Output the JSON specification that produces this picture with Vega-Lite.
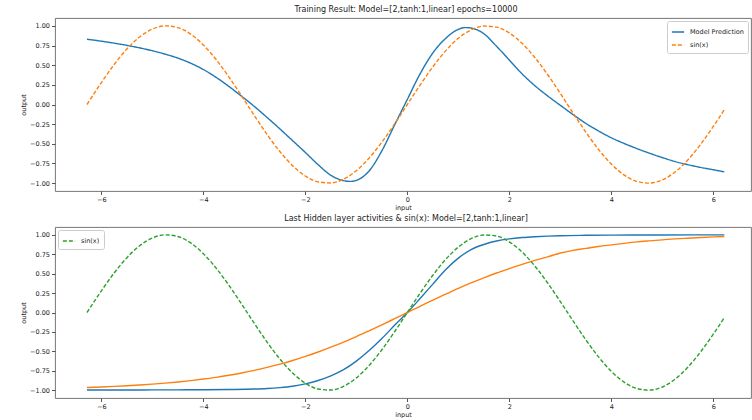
{
  "$schema": "https://vega.github.io/schema/vega-lite/v6.json",
  "padding": {"left": 20, "top": 5, "right": 0, "bottom": 0},
  "config": {
    "font": "DejaVu Sans",
    "view": {"stroke": "#666", "strokeWidth": 0.9},
    "axis": {"grid": false, "domain": false, "tickColor": "#555", "tickSize": 3.5, "labelColor": "#222", "labelFontSize": 6.5, "labelPadding": 2, "titleFontSize": 6.5, "titleFontWeight": "normal", "titleColor": "#222"},
    "axisX": {"titlePadding": 1},
    "axisY": {"titlePadding": 3},
    "title": {"fontSize": 8, "fontWeight": "normal", "color": "#222", "offset": 4, "anchor": "middle", "dx": 3},
    "legend": {"offset": 3, "padding": 4, "strokeColor": "#ccc", "fillColor": "#ffffff", "cornerRadius": 2, "labelFontSize": 6.5, "labelColor": "#222", "symbolType": "stroke", "symbolStrokeWidth": 1.4, "symbolSize": 150, "rowPadding": 2, "labelOffset": 5}
  },
  "datasets": {
    "sin": [
      {"x": -6.283, "y": 0.0}, {"x": -6.0, "y": 0.2794}, {"x": -5.75, "y": 0.5083}, {"x": -5.5, "y": 0.7055}, {"x": -5.25, "y": 0.8589}, {"x": -5.0, "y": 0.9589}, {"x": -4.75, "y": 0.9993}, {"x": -4.5, "y": 0.9775}, {"x": -4.25, "y": 0.895}, {"x": -4.0, "y": 0.7568}, {"x": -3.75, "y": 0.5716}, {"x": -3.5, "y": 0.3508}, {"x": -3.25, "y": 0.1082}, {"x": -3.0, "y": -0.1411}, {"x": -2.75, "y": -0.3817}, {"x": -2.5, "y": -0.5985}, {"x": -2.25, "y": -0.7781}, {"x": -2.0, "y": -0.9093}, {"x": -1.75, "y": -0.984}, {"x": -1.5, "y": -0.9975}, {"x": -1.25, "y": -0.949}, {"x": -1.0, "y": -0.8415}, {"x": -0.75, "y": -0.6816}, {"x": -0.5, "y": -0.4794}, {"x": -0.25, "y": -0.2474}, {"x": 0.0, "y": 0.0}, {"x": 0.25, "y": 0.2474}, {"x": 0.5, "y": 0.4794}, {"x": 0.75, "y": 0.6816}, {"x": 1.0, "y": 0.8415}, {"x": 1.25, "y": 0.949}, {"x": 1.5, "y": 0.9975}, {"x": 1.75, "y": 0.984}, {"x": 2.0, "y": 0.9093}, {"x": 2.25, "y": 0.7781}, {"x": 2.5, "y": 0.5985}, {"x": 2.75, "y": 0.3817}, {"x": 3.0, "y": 0.1411}, {"x": 3.25, "y": -0.1082}, {"x": 3.5, "y": -0.3508}, {"x": 3.75, "y": -0.5716}, {"x": 4.0, "y": -0.7568}, {"x": 4.25, "y": -0.895}, {"x": 4.5, "y": -0.9775}, {"x": 4.75, "y": -0.9993}, {"x": 5.0, "y": -0.9589}, {"x": 5.25, "y": -0.8589}, {"x": 5.5, "y": -0.7055}, {"x": 5.75, "y": -0.5083}, {"x": 6.0, "y": -0.2794}, {"x": 6.217, "y": -0.0663}
    ],
    "pred": [
      {"x": -6.283, "y": 0.83}, {"x": -6.0, "y": 0.805}, {"x": -5.75, "y": 0.78}, {"x": -5.5, "y": 0.752}, {"x": -5.25, "y": 0.72}, {"x": -5.0, "y": 0.683}, {"x": -4.75, "y": 0.64}, {"x": -4.5, "y": 0.59}, {"x": -4.25, "y": 0.525}, {"x": -4.0, "y": 0.445}, {"x": -3.75, "y": 0.345}, {"x": -3.5, "y": 0.23}, {"x": -3.25, "y": 0.105}, {"x": -3.0, "y": -0.025}, {"x": -2.75, "y": -0.165}, {"x": -2.5, "y": -0.31}, {"x": -2.25, "y": -0.46}, {"x": -2.0, "y": -0.61}, {"x": -1.75, "y": -0.765}, {"x": -1.5, "y": -0.9}, {"x": -1.25, "y": -0.968}, {"x": -1.125, "y": -0.978}, {"x": -1.0, "y": -0.965}, {"x": -0.75, "y": -0.845}, {"x": -0.5, "y": -0.59}, {"x": -0.25, "y": -0.26}, {"x": 0.0, "y": 0.065}, {"x": 0.25, "y": 0.39}, {"x": 0.5, "y": 0.655}, {"x": 0.75, "y": 0.84}, {"x": 1.0, "y": 0.955}, {"x": 1.125, "y": 0.978}, {"x": 1.25, "y": 0.972}, {"x": 1.5, "y": 0.9}, {"x": 1.75, "y": 0.74}, {"x": 2.0, "y": 0.565}, {"x": 2.25, "y": 0.39}, {"x": 2.5, "y": 0.24}, {"x": 2.75, "y": 0.11}, {"x": 3.0, "y": -0.01}, {"x": 3.25, "y": -0.128}, {"x": 3.5, "y": -0.24}, {"x": 3.75, "y": -0.337}, {"x": 4.0, "y": -0.423}, {"x": 4.25, "y": -0.495}, {"x": 4.5, "y": -0.56}, {"x": 4.75, "y": -0.62}, {"x": 5.0, "y": -0.675}, {"x": 5.25, "y": -0.725}, {"x": 5.5, "y": -0.765}, {"x": 5.75, "y": -0.8}, {"x": 6.0, "y": -0.83}, {"x": 6.217, "y": -0.857}
    ],
    "h1": [
      {"x": -6.283, "y": -0.997}, {"x": -6.0, "y": -0.997}, {"x": -5.5, "y": -0.997}, {"x": -5.0, "y": -0.996}, {"x": -4.5, "y": -0.995}, {"x": -4.0, "y": -0.994}, {"x": -3.5, "y": -0.991}, {"x": -3.0, "y": -0.985}, {"x": -2.75, "y": -0.978}, {"x": -2.5, "y": -0.966}, {"x": -2.25, "y": -0.948}, {"x": -2.0, "y": -0.918}, {"x": -1.75, "y": -0.875}, {"x": -1.5, "y": -0.815}, {"x": -1.25, "y": -0.735}, {"x": -1.0, "y": -0.625}, {"x": -0.75, "y": -0.49}, {"x": -0.5, "y": -0.335}, {"x": -0.25, "y": -0.165}, {"x": 0.0, "y": 0.0}, {"x": 0.25, "y": 0.18}, {"x": 0.5, "y": 0.365}, {"x": 0.75, "y": 0.55}, {"x": 1.0, "y": 0.7}, {"x": 1.25, "y": 0.81}, {"x": 1.5, "y": 0.875}, {"x": 1.75, "y": 0.92}, {"x": 2.0, "y": 0.947}, {"x": 2.25, "y": 0.964}, {"x": 2.5, "y": 0.975}, {"x": 2.75, "y": 0.983}, {"x": 3.0, "y": 0.988}, {"x": 3.5, "y": 0.993}, {"x": 4.0, "y": 0.996}, {"x": 5.0, "y": 0.998}, {"x": 6.217, "y": 0.999}
    ],
    "h2": [
      {"x": -6.283, "y": -0.965}, {"x": -6.0, "y": -0.958}, {"x": -5.75, "y": -0.951}, {"x": -5.5, "y": -0.943}, {"x": -5.25, "y": -0.933}, {"x": -5.0, "y": -0.922}, {"x": -4.75, "y": -0.909}, {"x": -4.5, "y": -0.894}, {"x": -4.25, "y": -0.876}, {"x": -4.0, "y": -0.856}, {"x": -3.75, "y": -0.834}, {"x": -3.5, "y": -0.808}, {"x": -3.25, "y": -0.778}, {"x": -3.0, "y": -0.744}, {"x": -2.75, "y": -0.706}, {"x": -2.5, "y": -0.664}, {"x": -2.25, "y": -0.617}, {"x": -2.0, "y": -0.565}, {"x": -1.75, "y": -0.508}, {"x": -1.5, "y": -0.446}, {"x": -1.25, "y": -0.38}, {"x": -1.0, "y": -0.31}, {"x": -0.75, "y": -0.235}, {"x": -0.5, "y": -0.159}, {"x": -0.25, "y": -0.08}, {"x": 0.0, "y": 0.0}, {"x": 0.25, "y": 0.08}, {"x": 0.5, "y": 0.159}, {"x": 0.75, "y": 0.235}, {"x": 1.0, "y": 0.31}, {"x": 1.25, "y": 0.38}, {"x": 1.5, "y": 0.446}, {"x": 1.75, "y": 0.508}, {"x": 2.0, "y": 0.565}, {"x": 2.25, "y": 0.62}, {"x": 2.5, "y": 0.67}, {"x": 2.75, "y": 0.715}, {"x": 3.0, "y": 0.765}, {"x": 3.25, "y": 0.8}, {"x": 3.5, "y": 0.825}, {"x": 3.75, "y": 0.85}, {"x": 4.0, "y": 0.87}, {"x": 4.25, "y": 0.89}, {"x": 4.5, "y": 0.908}, {"x": 4.75, "y": 0.922}, {"x": 5.0, "y": 0.935}, {"x": 5.25, "y": 0.947}, {"x": 5.5, "y": 0.956}, {"x": 5.75, "y": 0.965}, {"x": 6.0, "y": 0.973}, {"x": 6.217, "y": 0.978}
    ]
  },
  "spacing": 3,
  "resolve": {"scale": {"color": "independent", "strokeDash": "independent"}, "legend": {"color": "independent", "strokeDash": "independent"}},
  "vconcat": [
    {
      "width": 696,
      "height": 173,
      "title": {"text": "Training Result: Model=[2,tanh:1,linear] epochs=10000"},
      "encoding": {
        "x": {"field": "x", "type": "quantitative", "scale": {"domain": [-6.91, 6.74], "nice": false, "zero": false}, "axis": {"title": "input", "values": [-6, -4, -2, 0, 2, 4, 6], "format": "d"}},
        "y": {"field": "y", "type": "quantitative", "scale": {"domain": [-1.1, 1.1], "nice": false, "zero": false}, "axis": {"title": "output", "values": [-1, -0.75, -0.5, -0.25, 0, 0.25, 0.5, 0.75, 1], "format": ".2f"}}
      },
      "layer": [
        {
          "data": {"name": "pred"},
          "mark": {"type": "line", "strokeWidth": 1.4, "interpolate": "monotone"},
          "encoding": {
            "color": {"datum": "Model Prediction", "scale": {"domain": ["Model Prediction", "sin(x)"], "range": ["#1f77b4", "#ff7f0e"]}, "legend": {"orient": "top-right", "title": null}},
            "strokeDash": {"datum": "Model Prediction", "scale": {"domain": ["Model Prediction", "sin(x)"], "range": [[1, 0], [4, 2]]}, "legend": {"orient": "top-right", "title": null}}
          }
        },
        {
          "data": {"name": "sin"},
          "mark": {"type": "line", "strokeWidth": 1.4, "interpolate": "monotone"},
          "encoding": {
            "color": {"datum": "sin(x)"},
            "strokeDash": {"datum": "sin(x)"}
          }
        }
      ]
    },
    {
      "width": 696,
      "height": 171,
      "title": {"text": "Last Hidden layer activities & sin(x): Model=[2,tanh:1,linear]"},
      "encoding": {
        "x": {"field": "x", "type": "quantitative", "scale": {"domain": [-6.91, 6.74], "nice": false, "zero": false}, "axis": {"title": "input", "values": [-6, -4, -2, 0, 2, 4, 6], "format": "d"}},
        "y": {"field": "y", "type": "quantitative", "scale": {"domain": [-1.1, 1.1], "nice": false, "zero": false}, "axis": {"title": "output", "values": [-1, -0.75, -0.5, -0.25, 0, 0.25, 0.5, 0.75, 1], "format": ".2f"}}
      },
      "layer": [
        {
          "data": {"name": "h1"},
          "mark": {"type": "line", "strokeWidth": 1.4, "interpolate": "monotone", "color": "#1f77b4"},
          "encoding": {}
        },
        {
          "data": {"name": "h2"},
          "mark": {"type": "line", "strokeWidth": 1.4, "interpolate": "monotone", "color": "#ff7f0e"},
          "encoding": {}
        },
        {
          "data": {"name": "sin"},
          "mark": {"type": "line", "strokeWidth": 1.4, "interpolate": "monotone"},
          "encoding": {
            "color": {"datum": "sin(x)", "scale": {"domain": ["sin(x)"], "range": ["#2ca02c"]}, "legend": {"orient": "top-left", "title": null}},
            "strokeDash": {"datum": "sin(x)", "scale": {"domain": ["sin(x)"], "range": [[4, 2]]}, "legend": {"orient": "top-left", "title": null}}
          }
        }
      ]
    }
  ]
}
